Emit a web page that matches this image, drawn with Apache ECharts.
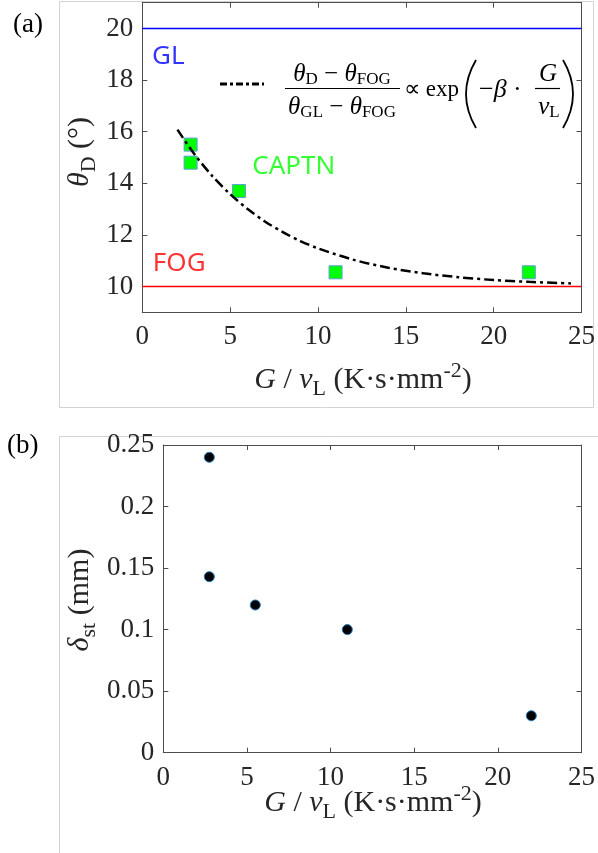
<!DOCTYPE html>
<html>
<head>
<meta charset="utf-8">
<script src="https://cdn.jsdelivr.net/npm/echarts@6/dist/echarts.min.js"></script>
<style>
  html, body { margin: 0; padding: 0; background: #fff; }
  #chart { width: 598px; height: 853px; }
</style>
</head>
<body>
<div id="chart"></div>
<script>
// panel (a): measured contact angle vs G/vL
var thetaX = [2.75, 2.75, 5.5, 11, 22];
var thetaY = [15.5, 14.8, 13.7, 10.55, 10.55];
// dash-dot trend curve
var curveX = [2, 3, 4, 5, 6, 7, 8, 9, 10, 12, 14, 16, 18, 20, 22, 24.4];
var curveY = [16.08, 15.1, 14.27, 13.58, 13.0, 12.51, 12.11, 11.76, 11.48, 11.04, 10.73, 10.51, 10.36, 10.25, 10.18, 10.12];
var glLevel = 20;
var fogLevel = 10;
var thetaTicks = [10, 12, 14, 16, 18, 20];

// panel (b): stray grain distance
var deltaX = [2.75, 2.75, 5.5, 11, 22];
var deltaY = [0.24, 0.143, 0.12, 0.1, 0.03];
var deltaTicks = [0, 0.05, 0.1, 0.15, 0.2, 0.25];

var serif = '"Liberation Serif", "Times New Roman", serif';
var sans = '"Noto Sans", "Open Sans", sans-serif';
var axisCol = '#4d4d4d';
var textCol = '#262626';
var tickFont = 27;

function pairs(xs, ys) {
    return xs.map(function (x, i) { return [x, ys[i]]; });
}

function boxAxis(gridIndex, showLabels, extra) {
    let ax = {
        gridIndex: gridIndex,
        type: 'value',
        axisLine: { show: true, onZero: false, lineStyle: { color: axisCol, width: 1 } },
        axisTick: { show: true, inside: true, length: 5, lineStyle: { color: axisCol } },
        axisLabel: { show: showLabels, color: textCol, fontFamily: serif, fontSize: tickFont },
        splitLine: { show: false }
    };
    return Object.assign(ax, extra);
}

function titleRich(big, small) {
    return {
        i: { fontFamily: serif, fontStyle: 'italic', fontSize: big, lineHeight: 40, verticalAlign: 'middle', fill: textCol },
        n: { fontFamily: serif, fontSize: big, lineHeight: 40, verticalAlign: 'middle', fill: textCol },
        s: { fontFamily: serif, fontSize: small, lineHeight: 14, verticalAlign: 'bottom', fill: textCol },
        p: { fontFamily: serif, fontSize: small, lineHeight: 14, verticalAlign: 'top', fill: textCol }
    };
}

function mathRich(big, small) {
    return {
        i: { fontFamily: serif, fontStyle: 'italic', fontSize: big, lineHeight: 28, verticalAlign: 'middle', fill: '#000' },
        n: { fontFamily: serif, fontSize: big, lineHeight: 28, verticalAlign: 'middle', fill: '#000' },
        s: { fontFamily: serif, fontSize: small, lineHeight: 12, verticalAlign: 'bottom', fill: '#000' }
    };
}

var xRange = { min: 0, max: 25, interval: 5 };

let myChart = echarts.init(document.getElementById('chart'), null, { renderer: 'canvas' });

let option = {
    animation: false,
    backgroundColor: '#fff',
    grid: [
        { left: 142.3, top: 2.7, width: 442, height: 309.6 },
        { left: 163.3, top: 445, width: 420.5, height: 307.7 }
    ],
    xAxis: [
        boxAxis(0, true, Object.assign({ position: 'bottom', axisLabel: { show: true, color: textCol, fontFamily: serif, fontSize: tickFont, margin: 11 } }, xRange)),
        boxAxis(0, false, Object.assign({ position: 'top' }, xRange)),
        boxAxis(1, true, Object.assign({ position: 'bottom', axisLabel: { show: true, color: textCol, fontFamily: serif, fontSize: tickFont, margin: 12 } }, xRange)),
        boxAxis(1, false, Object.assign({ position: 'top' }, xRange))
    ],
    yAxis: [
        boxAxis(0, true, {
            position: 'left', min: 9, max: 21, interval: 1,
            axisLabel: { show: true, color: textCol, fontFamily: serif, fontSize: tickFont, margin: 9, customValues: thetaTicks },
            axisTick: { show: true, inside: true, length: 5, lineStyle: { color: axisCol }, customValues: thetaTicks }
        }),
        boxAxis(0, false, {
            position: 'right', min: 9, max: 21, interval: 1,
            axisTick: { show: true, inside: true, length: 5, lineStyle: { color: axisCol }, customValues: thetaTicks }
        }),
        boxAxis(1, true, {
            position: 'left', min: 0, max: 0.25, interval: 0.05,
            axisLabel: { show: true, color: textCol, fontFamily: serif, fontSize: tickFont, margin: 9, customValues: deltaTicks }
        }),
        boxAxis(1, false, { position: 'right', min: 0, max: 0.25, interval: 0.05 })
    ],
    series: [
        {
            name: 'GL', type: 'line', xAxisIndex: 0, yAxisIndex: 0,
            data: [[xRange.min, glLevel], [xRange.max, glLevel]],
            symbol: 'none', lineStyle: { color: '#0000ff', width: 1.5 }, z: 3
        },
        {
            name: 'FOG', type: 'line', xAxisIndex: 0, yAxisIndex: 0,
            data: [[xRange.min, fogLevel], [xRange.max, fogLevel]],
            symbol: 'none', lineStyle: { color: '#ff0000', width: 1.5 }, z: 3
        },
        {
            name: 'CAPTN', type: 'scatter', xAxisIndex: 0, yAxisIndex: 0,
            data: pairs(thetaX, thetaY),
            symbol: 'rect', symbolSize: 13,
            itemStyle: { color: '#00ff00', borderColor: '#5a9fd4', borderWidth: 1, opacity: 1 },
            z: 4
        },
        {
            name: 'fit', type: 'line', xAxisIndex: 0, yAxisIndex: 0,
            data: pairs(curveX, curveY), smooth: 0.3,
            symbol: 'none', lineStyle: { color: '#000', width: 2.5, type: [10, 4, 3, 4] }, z: 5
        },
        {
            name: 'labels', type: 'scatter', xAxisIndex: 0, yAxisIndex: 0,
            symbolSize: 0, silent: true, z: 6,
            data: [
                { value: [0.55, 18.92], label: { formatter: 'GL', color: '#0000ff' } },
                { value: [0.6, 10.9], label: { formatter: 'FOG', color: '#ff0000' } },
                { value: [6.26, 14.66], label: { formatter: 'CAPTN', color: '#00ff00' } }
            ],
            label: { show: true, position: [0, 0], align: 'left', verticalAlign: 'middle', fontFamily: sans, fontSize: 26 }
        },
        {
            name: 'delta', type: 'scatter', xAxisIndex: 2, yAxisIndex: 2,
            data: pairs(deltaX, deltaY),
            symbol: 'circle', symbolSize: 10,
            itemStyle: { color: '#000', borderColor: '#1f77b4', borderWidth: 1, opacity: 1 }
        }
    ],
    graphic: [
        // sub-figure frames
        { type: 'rect', shape: { x: 59.5, y: 1.5, width: 534, height: 406 }, style: { fill: 'none', stroke: '#d4d4d4', lineWidth: 1 }, silent: true },
        { type: 'polyline', shape: { points: [[59.5, 853], [59.5, 436.5], [598, 436.5]] }, style: { fill: 'none', stroke: '#d4d4d4', lineWidth: 1 }, silent: true },
        // panel letters
        { type: 'text', x: 13, y: 25, style: { text: '(a)', font: '27px ' + serif, fill: '#000', verticalAlign: 'middle' } },
        { type: 'text', x: 7, y: 446, style: { text: '(b)', font: '27px ' + serif, fill: '#000', verticalAlign: 'middle' } },
        // axis titles
        {
            type: 'text', x: 80, y: 152, rotation: Math.PI / 2,
            style: { text: '{i|θ}{s|D}{n| (°)}', align: 'center', verticalAlign: 'middle', rich: titleRich(30, 22) }
        },
        {
            type: 'text', x: 80, y: 600, rotation: Math.PI / 2,
            style: { text: '{i|δ}{s|st}{n| (mm)}', align: 'center', verticalAlign: 'middle', rich: titleRich(30, 22) }
        },
        {
            type: 'text', x: 363, y: 380,
            style: { text: '{i|G}{n| / }{i|v}{s|L}{n| (K·s·mm}{p|-2}{n|)}', align: 'center', verticalAlign: 'middle', rich: titleRich(30, 22) }
        },
        {
            type: 'text', x: 373, y: 803,
            style: { text: '{i|G}{n| / }{i|v}{s|L}{n| (K·s·mm}{p|-2}{n|)}', align: 'center', verticalAlign: 'middle', rich: titleRich(30, 22) }
        },
        // legend for the fit curve
        { type: 'line', shape: { x1: 220, y1: 84, x2: 264, y2: 84 }, style: { stroke: '#000', lineWidth: 3, lineDash: [7, 3, 3, 3] }, silent: true },
        {
            type: 'text', x: 342, y: 74,
            style: { text: '{i|θ}{s|D}{n| − }{i|θ}{s|FOG}', align: 'center', verticalAlign: 'middle', rich: mathRich(25, 17) }
        },
        { type: 'line', shape: { x1: 285, y1: 88.5, x2: 400, y2: 88.5 }, style: { stroke: '#000', lineWidth: 1.2 }, silent: true },
        {
            type: 'text', x: 342, y: 107,
            style: { text: '{i|θ}{s|GL}{n| − }{i|θ}{s|FOG}', align: 'center', verticalAlign: 'middle', rich: mathRich(25, 17) }
        },
        { type: 'text', x: 404, y: 90, style: { text: '∝ exp', font: '23px ' + serif, fill: '#000', verticalAlign: 'middle' } },
        // tall thin parentheses
        { type: 'bezierCurve', shape: { x1: 476, y1: 60, x2: 476, y2: 128, cpx1: 456, cpy1: 94 }, style: { stroke: '#000', lineWidth: 1.8, fill: 'none' }, silent: true },
        { type: 'bezierCurve', shape: { x1: 563, y1: 60, x2: 563, y2: 128, cpx1: 583, cpy1: 94 }, style: { stroke: '#000', lineWidth: 1.8, fill: 'none' }, silent: true },
        {
            type: 'text', x: 479, y: 90,
            style: { text: '{n|−}{i|β}{n| ·}', verticalAlign: 'middle', rich: mathRich(26, 17) }
        },
        { type: 'text', x: 548, y: 74, style: { text: 'G', font: 'italic 25px ' + serif, fill: '#000', align: 'center', verticalAlign: 'middle' } },
        { type: 'line', shape: { x1: 535, y1: 88.5, x2: 560, y2: 88.5 }, style: { stroke: '#000', lineWidth: 1.2 }, silent: true },
        {
            type: 'text', x: 549, y: 107,
            style: { text: '{i|v}{s|L}', align: 'center', verticalAlign: 'middle', rich: mathRich(25, 17) }
        }
    ]
};

if (option && typeof option === 'object') {
    myChart.setOption(option, true);
}
</script>
</body>
</html>
